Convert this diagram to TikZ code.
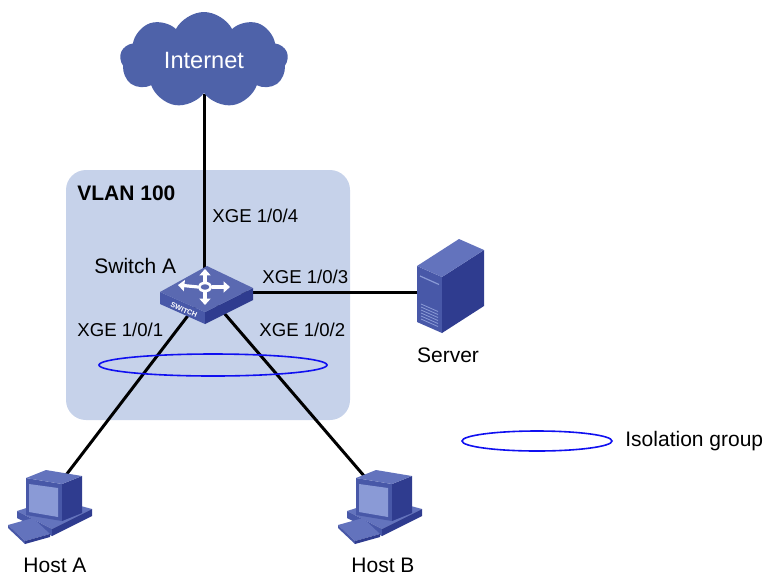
\documentclass[tikz,border=0pt]{standalone}
\usepackage{fontspec}
\setmainfont{Liberation Sans}
\usetikzlibrary{shapes.symbols,shapes.geometric,arrows.meta,backgrounds}

\definecolor{vlanfill}{HTML}{C6D2EA}
\definecolor{cloudfill}{HTML}{4E62A9}
\definecolor{devtop}{HTML}{6373BD}
\definecolor{devfront}{HTML}{4858A8}
\definecolor{devside}{HTML}{2F3C8F}
\definecolor{screen}{HTML}{8A9AD6}
\definecolor{ringblue}{HTML}{1010F0}

\tikzset{
	link/.style={line width=1.5pt},
	devlabel/.style={inner sep=0, font=\fontsize{10.5}{12}\selectfont},
	port/.style={inner sep=0, font=\fontsize{9.3}{11}\selectfont},
	ring/.style={ellipse, draw=ringblue, line width=0.8pt, inner sep=0},
	% desktop computer
	pics/host/.style={code={
		\fill[devtop] (-38,6) -- (0,-6) -- (37,4) -- (-3,24) -- cycle;
		\fill[devfront] (-38,6) -- (-3,24) -- (-3,31) -- (-38,13) -- cycle;
		\fill[devside] (-3,24) -- (37,4) -- (37,11) -- (-3,31) -- cycle;
		\fill[devtop] (-47,20) -- (-22,13) -- (-5,29) -- (-30,36) -- cycle;
		\fill[devside] (-30,36) -- (-5,29) -- (-5,32) -- (-30,39) -- cycle;
		\fill[devfront] (-47,20) -- (-30,36) -- (-30,39) -- (-47,23) -- cycle;
		\fill[devfront] (-29,-27) -- (7,-21) -- (7,16) -- (-29,10) -- cycle;
		\fill[devside] (7,-21) -- (27,-29) -- (27,8) -- (7,16) -- cycle;
		\fill[devtop] (-29,-27) -- (-9,-35) -- (27,-29) -- (7,-21) -- cycle;
		\fill[screen] (-26,-21) -- (3,-17) -- (3,12) -- (-26,7) -- cycle;
		\coordinate (-l) at (-20,-28);
		\coordinate (-r) at (8,-26);
	}},
	% tower server
	pics/server/.style={code={
		\fill[devfront] (0,0) -- (25,11) -- (25,67) -- (0,56) -- cycle;
		\fill[devside] (25,11) -- (67,-16) -- (67,40) -- (25,67) -- cycle;
		\fill[devtop] (0,0) -- (42,-27) -- (67,-16) -- (25,11) -- cycle;
		\draw[screen, line width=0.6pt] (3,10) -- (22,18.5);
		\foreach \k in {0,...,5}
			\draw[screen, line width=0.4pt] (4,38+3*\k) -- (21,45.5+3*\k);
		\coordinate (-w) at (0,26);
	}},
	% workgroup switch
	pics/switch/.style={code={
		\fill[devfront] (-45,0) -- (0,20) -- (0,32) -- (-45,12) -- cycle;
		\fill[devside] (0,20) -- (48,-4) -- (48,8) -- (0,32) -- cycle;
		\fill[devfront!90!white] (-45,0) -- (2,-26) -- (48,-4) -- (0,20) -- cycle;
		\begin{scope}[white, line width=1.6pt, -{Triangle[length=3.2pt, width=5.5pt]}]
			\draw (-7,-5) -- (-27,-7);
			\draw (7,-5) -- (25,-5);
			\draw (0,-9) -- (0,-23);
			\draw (0,-1) -- (0,13);
		\end{scope}
		\draw[white, line width=1.3pt] (0,-5) ellipse [x radius=6, y radius=4];
		\node[white, rotate=-24, inner sep=0, font=\bfseries\fontsize{3.6}{4}\selectfont] at (-21,18) {SWITCH};
		\coordinate (-c) at (1,0);
	}},
}

\begin{document}
\begin{tikzpicture}[x=0.5pt, y=-0.5pt]
	\useasboundingbox (0,0) rectangle (766,574);

	\node[cloud, cloud puffs=9, cloud puff arc=125, aspect=1.9, fill=cloudfill,
		minimum width=84pt, minimum height=48pt, inner sep=0, text=white,
		font=\fontsize{11.8}{13}\selectfont] (inet) at (204,60) {Internet};

	\pic (sw) at (205,292) {switch};
	\pic (srv) at (417,266) {server};
	\pic (hA) at (55,505) {host};
	\pic (hB) at (385,505) {host};

	\begin{scope}[on background layer]
		\node[fill=vlanfill, rounded corners=10pt, minimum width=142pt, minimum height=125pt,
			inner sep=0] (vlan) at (208,295) {};
		\draw[link] (inet.south) -- (inet.south |- sw-c);
		\draw[link] (sw-c) -- (srv-w);
		\draw[link] (sw-c) -- (hA-r);
		\draw[link] (sw-c) -- (hB-l);
	\end{scope}

	\node[ring, minimum width=114pt, minimum height=11pt] (iso) at (213,365) {};
	\node[ring, minimum width=75pt, minimum height=10pt] (lgd) at (537,441) {};

	\node[inner sep=0, anchor=west, font=\bfseries\fontsize{10.5}{12}\selectfont] (vname) at (77,193) {VLAN 100};
	\node[devlabel, anchor=west] (swname) at (94,266) {Switch A};
	\node[port, anchor=west] (p4) at (212,216) {XGE 1/0/4};
	\node[port, anchor=west] (p3) at (262,277) {XGE 1/0/3};
	\node[port, anchor=west] (p1) at (77,330) {XGE 1/0/1};
	\node[port, anchor=west] (p2) at (259,330) {XGE 1/0/2};
	\node[devlabel] (srvname) at (448,355) {Server};
	\node[devlabel] (hAname) at (55,565) {Host A};
	\node[devlabel] (hBname) at (383,565) {Host B};
	\node[devlabel, anchor=west] (lgdtxt) at (625,441) {Isolation group};
\end{tikzpicture}
\end{document}
